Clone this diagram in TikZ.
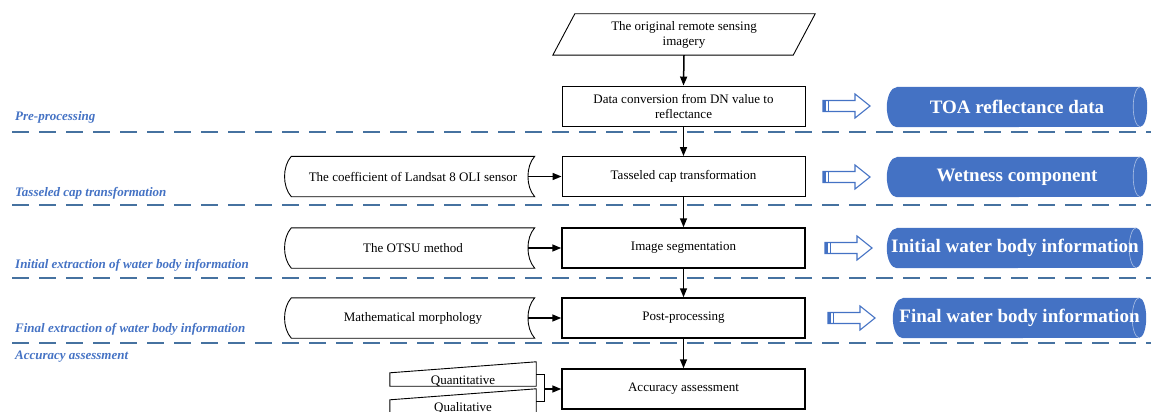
\documentclass[tikz,border=0pt]{standalone}
\usepackage{fontspec}
\setmainfont{Liberation Serif}
\usetikzlibrary{arrows.meta,backgrounds}
\definecolor{labelblue}{RGB}{68,114,196}
\definecolor{dashblue}{RGB}{70,114,160}
\definecolor{cylblue}{RGB}{68,114,196}
\newcommand\storedshape[1]{\draw[shapeline] (#1.north west) .. controls +(-9,10) and +(-9,-10) .. (#1.south west) -- (#1.south east) .. controls +(-9,-10) and +(-9,10) .. (#1.north east) -- cycle;}
\newcommand\cylshape[1]{%
  \fill[cylblue] ([xshift=10pt]#1.north west) -- ([xshift=-7pt]#1.north east) arc[start angle=90,end angle=-90,x radius=7pt,y radius=20pt] -- ([xshift=10pt]#1.south west) arc[start angle=270,end angle=90,x radius=10pt,y radius=20pt] -- cycle;
  \draw[white!55!cylblue, line width=0.6pt] ([xshift=-7pt]#1.north east) arc[start angle=90,end angle=270,x radius=7pt,y radius=20pt];}
\newcommand\blockarr[2]{%
  \draw[cylblue, line width=1.1pt, fill=white, line join=miter] (#1,#2-5.5) -- ++(32,0) -- ++(0,-6.5) -- (#1+47,#2) -- (#1+32,#2+12) -- ++(0,-6.5) -- (#1,#2+5.5) -- cycle;
  \fill[cylblue] (#1,#2-5.5) rectangle (#1+3,#2+5.5);
  \draw[cylblue, line width=0.6pt] (#1+5.5,#2-5.5) -- (#1+5.5,#2+5.5);}
\begin{document}
\begin{tikzpicture}[x=1pt,y=-1pt,
  box/.style={draw, line width=0.9pt, minimum width=243pt, minimum height=40pt, inner sep=2pt, align=center, font=\fontsize{13}{15}\selectfont},
  thickbox/.style={box, line width=1.5pt},
  plain/.style={minimum width=243pt, minimum height=40pt, inner sep=0pt, align=center, font=\fontsize{13}{15}\selectfont},
  shapeline/.style={draw, line width=0.9pt},
  arr/.style={-{Triangle[length=9pt,width=7pt]}, line width=1.5pt},
  dashline/.style={dashblue, line width=2.2pt, dash pattern=on 17pt off 10pt},
  seclabel/.style={anchor=west, text=labelblue, font=\fontsize{13}{15}\selectfont\bfseries\itshape, inner sep=0pt},
  cyl/.style={minimum height=40pt, inner sep=0pt, text=white, font=\fontsize{19}{21}\selectfont\bfseries},
]
\useasboundingbox (0,0) rectangle (1151,412);

% dashed separators
\draw[dashline] (12,132) -- (1151,132);
\draw[dashline] (12,205) -- (1151,205);
\draw[dashline] (12,278) -- (1151,278);
\draw[dashline] (12,343) -- (1151,343);

% section labels
\node[seclabel] (l1) at (15,117) {Pre-processing};
\node[seclabel] (l2) at (15,193) {Tasseled cap transformation};
\node[seclabel] (l3) at (15,265) {Initial extraction of water body information};
\node[seclabel] (l4) at (15,329) {Final extraction of water body information};
\node[seclabel] (l5) at (15,357) {Accuracy assessment};

% main column
\node[plain, minimum width=240pt, minimum height=41pt] (orig) at (684,34.5) {The original remote sensing\\imagery};
\draw[shapeline] ([xshift=-11pt]orig.south west) -- ([xshift=11pt]orig.north west) -- ([xshift=11pt]orig.north east) -- ([xshift=-11pt]orig.south east) -- cycle;
\node[box] (dn) at (683.5,106) {Data conversion from DN value to\\reflectance};
\node[box] (tc) at (683.5,176.5) {Tasseled cap transformation};
\node[thickbox] (seg) at (683.5,248) {Image segmentation};
\node[thickbox] (post) at (683.5,318) {Post-processing};
\node[thickbox] (acc) at (683.5,389) {Accuracy assessment};

\draw[arr] (orig.south) -- (dn.north);
\draw[arr] (dn.south) -- (tc.north);
\draw[arr] (tc.south) -- (seg.north);
\draw[arr] (seg.south) -- (post.north);
\draw[arr] (post.south) -- (acc.north);

% stored data inputs
\node[plain] (coef) at (413,176.5) {The coefficient of Landsat 8 OLI sensor};
\storedshape{coef}
\node[plain] (otsu) at (413,248) {The OTSU method};
\storedshape{otsu}
\node[plain] (morph) at (413,318) {Mathematical morphology};
\storedshape{morph}
\draw[arr] ([xshift=-6.5pt]coef.east) -- (tc.west);
\draw[arr] ([xshift=-6.5pt]otsu.east) -- (seg.west);
\draw[arr] ([xshift=-6.5pt]morph.east) -- (post.west);

% manual inputs
\node[plain, minimum width=146pt, minimum height=24pt] (quant) at (463,374) {\raisebox{-10pt}[0pt][0pt]{Quantitative}};
\draw[shapeline] (quant.south west) -- ([yshift=-11pt]quant.north west) -- (quant.north east) -- (quant.south east) -- cycle;
\node[plain, minimum width=146pt, minimum height=24pt] (qual) at (463,401) {\raisebox{-10pt}[0pt][0pt]{Qualitative}};
\draw[shapeline] (qual.south west) -- ([yshift=-11pt]qual.north west) -- (qual.north east) -- (qual.south east) -- cycle;
\coordinate (j) at (544,389);
\draw[line width=0.9pt] (quant.east) -| (j);
\draw[line width=0.9pt] (qual.east) -| (j);
\draw[arr] (j) -- (acc.west);

% results
\blockarr{823}{106}
\blockarr{823}{177}
\blockarr{825}{248}
\blockarr{828}{318}
\node[cyl, minimum width=260pt] (c1) at (1017,107) {TOA reflectance data};
\node[cyl, minimum width=260pt] (c2) at (1017,177) {Wetness component};
\node[cyl, minimum width=256pt] (c3) at (1015,248) {Initial water body information};
\node[cyl, minimum width=253pt] (c4) at (1019.5,318) {Final water body information};
\begin{scope}[on background layer]
\cylshape{c1}
\cylshape{c2}
\cylshape{c3}
\cylshape{c4}
\end{scope}
\end{tikzpicture}
\end{document}
